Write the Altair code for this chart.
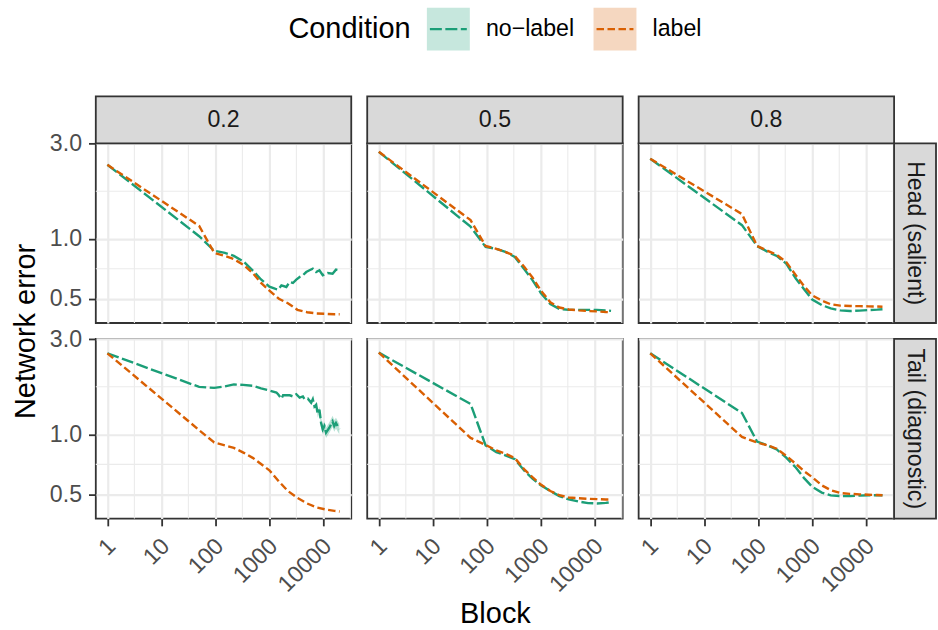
import altair as alt
import pandas as pd

FONT = "Liberation Sans"

PROPS = ["0.2", "0.5", "0.8"]
REGIONS = ["Head (salient)", "Tail (diagnostic)"]
CONDS = ["no-label", "label"]
LEGEND_LABELS = ["no\u2212label", "label"]
LEGEND_TITLE = "Condition"
LINE_COLORS = ["#1B9E77", "#D95F02"]
DASHES = [[12, 3.5], [7.5, 3.5]]

X_MAJOR = [1, 10, 100, 1000, 10000]
X_MINOR = [3.162, 31.62, 316.2, 3162, 31623]
Y_MAJOR = [0.5, 1.0, 3.0]
Y_MINOR = [0.7071, 1.7321]

BLOCKS = [1, 50, 95, 150, 220, 330, 500, 700, 1000, 1500, 2200, 3300, 5000, 7500, 11000, 16000, 20000]

H02_L = [2.35, 1.16, 0.85, 0.82, 0.79, 0.74, 0.67, 0.60, 0.55, 0.50, 0.475, 0.44, 0.428, 0.422, 0.42, 0.418, 0.418]
H02_NL_BLOCKS = [1, 50, 95, 150, 220, 330, 500, 700, 1000, 1300, 1450, 1670, 2060, 2380, 2730, 3150, 3630,
                 4170, 4810, 5530, 6370, 7340, 8450, 9730, 12000, 14800, 17100, 19700]
H02_NL = [2.35, 1.03, 0.87, 0.85, 0.82, 0.77, 0.69, 0.625, 0.575, 0.56, 0.556, 0.584, 0.573, 0.607, 0.600,
          0.624, 0.643, 0.656, 0.681, 0.695, 0.708, 0.681, 0.695, 0.656, 0.673, 0.668, 0.70, 0.695]
H05_L = [2.73, 1.24, 0.92, 0.89, 0.86, 0.82, 0.72, 0.64, 0.55, 0.48, 0.452, 0.442, 0.437, 0.434, 0.432, 0.429, 0.428]
H05_NL = [2.73, 1.15, 0.91, 0.89, 0.86, 0.81, 0.70, 0.62, 0.535, 0.47, 0.445, 0.44, 0.44, 0.44, 0.44, 0.437, 0.435]
H08_L = [2.52, 1.33, 0.92, 0.87, 0.83, 0.764, 0.655, 0.58, 0.52, 0.49, 0.469, 0.462, 0.46, 0.459, 0.458, 0.457, 0.456]
H08_NL = [2.52, 1.17, 0.92, 0.86, 0.82, 0.75, 0.63, 0.56, 0.495, 0.465, 0.447, 0.437, 0.434, 0.436, 0.439, 0.441, 0.443]

T02_L = [2.55, 1.05, 0.91, 0.88, 0.855, 0.81, 0.76, 0.71, 0.66, 0.58, 0.52, 0.48, 0.45, 0.43, 0.42, 0.413, 0.41]
T02_NL_BLOCKS = [1, 50, 95, 150, 220, 330, 500, 700, 1000, 1350, 1450, 1670, 1790, 2380, 2730, 3150, 3630,
                 4170, 4480, 5150, 5940, 6370, 6840, 7340, 7870, 8450, 9070, 9730, 10430, 11200, 12900,
                 14800, 15900, 17100, 19700]
T02_NL = [2.55, 1.73, 1.71, 1.74, 1.78, 1.77, 1.75, 1.70, 1.66, 1.62, 1.59, 1.51, 1.57, 1.57, 1.55, 1.59,
          1.53, 1.55, 1.50, 1.51, 1.44, 1.50, 1.38, 1.41, 1.26, 1.33, 1.14, 1.06, 1.10, 1.02, 1.08, 1.16,
          1.10, 1.14, 1.06]
T02_NL_RIB_BLOCKS = [7340, 7870, 8450, 9070, 9730, 10430, 11200, 12900, 14800, 15900, 17100, 19700]
T02_NL_RIB_LO = [1.37, 1.21, 1.28, 1.08, 1.00, 1.04, 0.96, 1.02, 1.09, 1.03, 1.07, 1.00]
T02_NL_RIB_HI = [1.45, 1.31, 1.38, 1.21, 1.12, 1.16, 1.08, 1.15, 1.24, 1.18, 1.21, 1.13]
T05_L = [2.57, 0.96, 0.885, 0.83, 0.80, 0.76, 0.665, 0.61, 0.56, 0.52, 0.495, 0.482, 0.478, 0.475, 0.473, 0.471, 0.471]
T05_NL = [2.57, 1.42, 0.88, 0.815, 0.785, 0.75, 0.655, 0.60, 0.555, 0.52, 0.49, 0.472, 0.46, 0.452, 0.45, 0.453, 0.457]
T08_L = [2.55, 0.97, 0.91, 0.88, 0.847, 0.78, 0.71, 0.655, 0.61, 0.555, 0.525, 0.508, 0.503, 0.50, 0.498, 0.496, 0.495]
T08_NL = [2.55, 1.28, 0.92, 0.88, 0.84, 0.764, 0.68, 0.605, 0.545, 0.51, 0.494, 0.49, 0.49, 0.493, 0.495, 0.495, 0.495]

SERIES = {
    ("0.2", "Head (salient)", "no-label"): (H02_NL_BLOCKS, H02_NL),
    ("0.2", "Head (salient)", "label"): (BLOCKS, H02_L),
    ("0.5", "Head (salient)", "no-label"): (BLOCKS, H05_NL),
    ("0.5", "Head (salient)", "label"): (BLOCKS, H05_L),
    ("0.8", "Head (salient)", "no-label"): (BLOCKS, H08_NL),
    ("0.8", "Head (salient)", "label"): (BLOCKS, H08_L),
    ("0.2", "Tail (diagnostic)", "no-label"): (T02_NL_BLOCKS, T02_NL),
    ("0.2", "Tail (diagnostic)", "label"): (BLOCKS, T02_L),
    ("0.5", "Tail (diagnostic)", "no-label"): (BLOCKS, T05_NL),
    ("0.5", "Tail (diagnostic)", "label"): (BLOCKS, T05_L),
    ("0.8", "Tail (diagnostic)", "no-label"): (BLOCKS, T08_NL),
    ("0.8", "Tail (diagnostic)", "label"): (BLOCKS, T08_L),
}

rows = []
for (p, r, c), (bl, vals) in SERIES.items():
    for b, v in zip(bl, vals):
        rows.append({"prop": p, "region": r, "cond": c, "block": b, "err": v})
df = pd.DataFrame(rows)

rib_df = pd.DataFrame({"prop": "0.2", "region": "Tail (diagnostic)", "cond": "no-label",
                       "block": T02_NL_RIB_BLOCKS, "lo": T02_NL_RIB_LO, "hi": T02_NL_RIB_HI})

# ---- layout / style constants ----
W, H = 256, 180
SH = 47          # strip height
RW = 42          # right strip width
GAP = 16
GRID = "#EBEBEB"
DARK = "#333333"
STRIP_FILL = "#D9D9D9"
SMALL = 23.2
BIG = 29
LW = 2.4

XDOM = [10 ** -0.215, 10 ** 4.516]
YDOM = [0.378, 3.01]

# legend placement relative to the top-middle panel
LEG_Y = -114.5
LEG_KEY_X = [81.3, 248.3]
LEG_LABEL_DX = 37.7
LEG_TITLE_X = -79


def xscale():
    return alt.Scale(type="log", domain=XDOM, nice=False)


def yscale():
    return alt.Scale(type="log", domain=YDOM, nice=False)


color_enc = alt.Color("cond:N", scale=alt.Scale(domain=CONDS, range=LINE_COLORS), legend=None)
dash_enc = alt.StrokeDash("cond:N", scale=alt.Scale(domain=CONDS, range=DASHES), legend=None)


def legend_layers():
    leg_df = pd.DataFrame({"cond": CONDS, "text": LEGEND_LABELS})
    out = []
    for i, c in enumerate(CONDS):
        one = leg_df[leg_df.cond == c]
        out.append(alt.Chart(one).mark_square(size=43 * 43, opacity=0.25).encode(
            x=alt.value(LEG_KEY_X[i]), y=alt.value(LEG_Y), color=color_enc))
        out.append(alt.Chart(one).mark_point(shape="stroke", size=37 * 37, strokeWidth=LW,
                                             filled=False, opacity=1).encode(
            x=alt.value(LEG_KEY_X[i]), y=alt.value(LEG_Y), color=color_enc, strokeDash=dash_enc))
        out.append(alt.Chart(one).mark_text(align="left", baseline="middle", fontSize=SMALL,
                                            color="black").encode(
            x=alt.value(LEG_KEY_X[i] + LEG_LABEL_DX), y=alt.value(LEG_Y), text="text:N"))
    out.append(alt.Chart(pd.DataFrame({"t": [LEGEND_TITLE]})).mark_text(
        align="left", baseline="middle", fontSize=BIG, color="black").encode(
        x=alt.value(LEG_TITLE_X), y=alt.value(LEG_Y), text="t:N"))
    return out


def top_strip_layers(p):
    d = pd.DataFrame({"lab": [p]})
    box = alt.Chart(d).mark_rect(fill=STRIP_FILL, stroke=DARK, strokeWidth=1.8).encode(
        x=alt.value(0), x2=alt.value(W), y=alt.value(-SH), y2=alt.value(0))
    txt = alt.Chart(d).mark_text(fontSize=SMALL, color="#1A1A1A", baseline="middle",
                                 align="center").encode(
        text="lab:N", x=alt.value(W / 2), y=alt.value(-SH / 2))
    return [box, txt]


def right_strip_layers(r):
    d = pd.DataFrame({"lab": [r]})
    box = alt.Chart(d).mark_rect(fill=STRIP_FILL, stroke=DARK, strokeWidth=1.8).encode(
        x=alt.value(W), x2=alt.value(W + RW), y=alt.value(0), y2=alt.value(H))
    txt = alt.Chart(d).mark_text(fontSize=SMALL, color="#1A1A1A", baseline="middle",
                                 align="center", angle=90).encode(
        text="lab:N", x=alt.value(W + RW / 2), y=alt.value(H / 2))
    return [box, txt]


def panel(pi, ri):
    p, r = PROPS[pi], REGIONS[ri]
    first_col = pi == 0
    last_row = ri == 1
    xa = dict(values=X_MAJOR, format="d", grid=True, gridColor=GRID, gridWidth=2.2, domain=False,
              ticks=last_row, labels=last_row, tickColor=DARK, tickWidth=1.8, tickSize=7.3,
              labelAngle=315, labelAlign="right", labelBaseline="middle", labelPadding=16.5,
              labelOffset=4, labelFontSize=SMALL, labelColor="#4D4D4D", labelFlush=False,
              labelOverlap=False, title=None)
    if last_row and pi == 1:
        xa.update(title="Block", titleFontSize=BIG, titleColor="black", titleFontWeight="normal",
                  titleX=W / 2, titleY=104.5, titleBaseline="alphabetic", titleAlign="center")
    ya = dict(values=Y_MAJOR, format=".1f", grid=True, gridColor=GRID, gridWidth=2.2, domain=False,
              ticks=first_col, labels=first_col, tickColor=DARK, tickWidth=1.8, tickSize=7.3,
              labelPadding=7, labelFontSize=SMALL, labelColor="#4D4D4D", labelOverlap=False,
              labelFlush=False, title=None)
    if first_col and ri == 0:
        ya.update(title="Network error", titleFontSize=BIG, titleColor="black", titleFontWeight="normal",
                  titleX=-61.5, titleY=H + GAP / 2, titleAngle=270, titleBaseline="alphabetic",
                  titleAlign="center")

    sub = df[(df.prop == p) & (df.region == r)]
    lines = alt.Chart(sub).mark_line(strokeWidth=LW).encode(
        x=alt.X("block:Q", scale=xscale(), axis=alt.Axis(**xa)),
        y=alt.Y("err:Q", scale=yscale(), axis=alt.Axis(**ya)),
        color=color_enc, strokeDash=dash_enc)
    # minor grid lines (no axis setting, so they share the line layer's axes)
    mx = alt.Chart(pd.DataFrame({"v": X_MINOR})).mark_rule(color=GRID, strokeWidth=1.1).encode(
        x=alt.X("v:Q", scale=xscale()))
    my = alt.Chart(pd.DataFrame({"v": Y_MINOR})).mark_rule(color=GRID, strokeWidth=1.1).encode(
        y=alt.Y("v:Q", scale=yscale()))
    layers = [mx, my]
    sub_rib = rib_df[(rib_df.prop == p) & (rib_df.region == r)]
    if len(sub_rib):
        layers.append(alt.Chart(sub_rib).mark_area(color=LINE_COLORS[0], opacity=0.3).encode(
            x=alt.X("block:Q", scale=xscale()),
            y=alt.Y("lo:Q", scale=yscale()), y2="hi:Q"))
    layers.append(lines)
    if ri == 0:
        layers += top_strip_layers(p)
    if pi == 2:
        layers += right_strip_layers(r)
    if ri == 0 and pi == 1:
        layers += legend_layers()
    return alt.layer(*layers).properties(width=W, height=H)


panels = [panel(pi, ri) for ri in range(2) for pi in range(3)]

chart = alt.concat(*panels, columns=3, spacing=GAP, bounds="flush").properties(
    padding={"left": 10, "top": 6, "right": 0, "bottom": 0},
    autosize=alt.AutoSizeParams(type="pad"),
).configure_view(stroke=DARK, strokeWidth=1.8).configure_text(font=FONT).configure_axis(
    labelFont=FONT, titleFont=FONT)

chart.save("out.html", embed_options={"renderer": "svg", "actions": False})
